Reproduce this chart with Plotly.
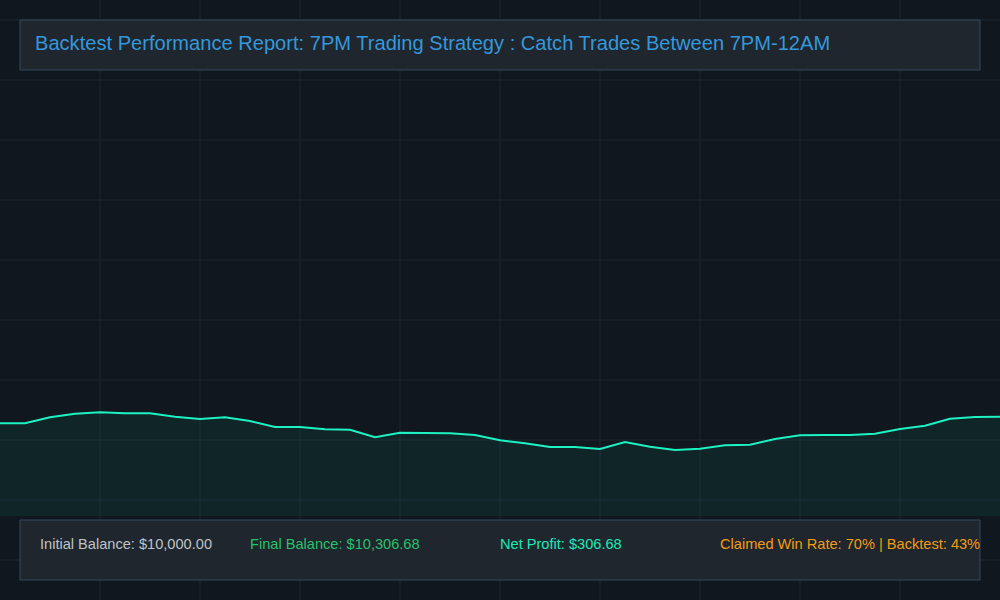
import plotly.graph_objects as go

# equity curve (balance after each trade)
trades = list(range(41))
balance = [10000.0, 10000.0, 10278.8, 10446.1, 10511.2, 10464.7, 10464.7, 10306.7,
           10199.8, 10278.8, 10106.9, 9828.1, 9828.1, 9721.2, 9702.6, 9349.4,
           9563.2, 9563.2, 9535.3, 9456.3, 9210.0, 9070.6, 8898.7, 8898.7,
           8805.7, 9131.0, 8912.6, 8759.3, 8819.7, 8977.7, 9005.5, 9270.4,
           9442.4, 9456.3, 9456.3, 9516.7, 9735.1, 9888.5, 10213.8, 10292.8,
           10306.68]

title_text = "Backtest Performance Report: 7PM Trading Strategy : Catch Trades Between 7PM-12AM"
stats = ["Initial Balance: $10,000.00", "Final Balance: $10,306.68",
         "Net Profit: $306.68", "Claimed Win Rate: 70% | Backtest: 43%"]
stat_colors = ["#bdc3c7", "#27c26c", "#1de9b6", "#f39c12"]
stat_x = [40, 250, 500, 720]

bg = "#10171e"
grid = "#1c2730"

fig = go.Figure()
fig.add_trace(go.Scatter(x=trades, y=balance, mode="lines",
                         line=dict(color="#1cf2c2", width=2),
                         fill="tozeroy", fillcolor="rgba(29,233,182,0.07)",
                         hoverinfo="skip", showlegend=False))

shapes = []
# background grid
for gx in range(100, 1000, 100):
    shapes.append(dict(type="line", xref="paper", yref="paper", layer="below",
                       x0=gx / 1000, x1=gx / 1000, y0=0, y1=1,
                       line=dict(color=grid, width=1)))
for gy in range(20, 600, 60):
    shapes.append(dict(type="line", xref="paper", yref="paper", layer="below",
                       x0=0, x1=1, y0=1 - gy / 600, y1=1 - gy / 600,
                       line=dict(color=grid, width=1)))
# title and stats panels
for top, bottom in [(20, 70), (520, 580)]:
    shapes.append(dict(type="rect", xref="paper", yref="paper",
                       x0=0.02, x1=0.98, y0=1 - bottom / 600, y1=1 - top / 600,
                       fillcolor="#1f262e", line=dict(color="#34495e", width=1)))

# annotation boxes add ~2px of padding on the left, so pull back by that
annotations = [dict(text=title_text, xref="paper", yref="paper", x=33 / 1000, y=1 - 43 / 600,
                    xanchor="left", yanchor="middle", showarrow=False,
                    font=dict(size=20.1, color="#3498db"))]
for txt, col, sx in zip(stats, stat_colors, stat_x):
    annotations.append(dict(text=txt, xref="paper", yref="paper", x=(sx - 2) / 1000, y=1 - 544 / 600,
                            xanchor="left", yanchor="middle", showarrow=False,
                            font=dict(size=14.6, color=col)))

fig.update_layout(
    width=1000, height=600,
    margin=dict(l=0, r=0, t=0, b=0),
    paper_bgcolor=bg, plot_bgcolor="rgba(0,0,0,0)",
    font=dict(family="Liberation Sans, Arial, sans-serif"),
    xaxis=dict(range=[0, 40], visible=False),
    yaxis=dict(range=[5692, 29671], domain=[0.14, 1], visible=False),
    shapes=shapes, annotations=annotations,
)

fig.write_html("out.html", config={"displayModeBar": False},
               post_script="document.body.style.margin='0';")
